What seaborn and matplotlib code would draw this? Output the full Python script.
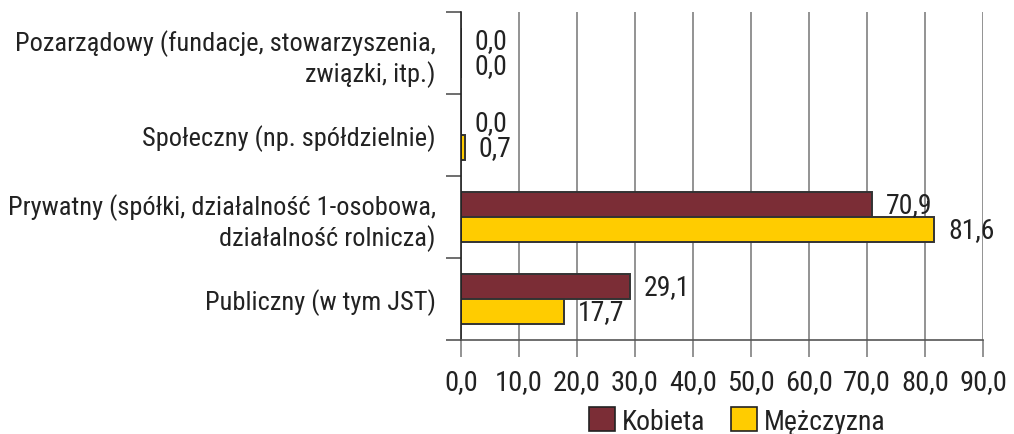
import pandas as pd
import matplotlib
import seaborn as sns
import matplotlib.pyplot as plt
from matplotlib import font_manager
from matplotlib.patches import Patch

matplotlib.use('Agg')

sectors = [
    "Pozarządowy (fundacje, stowarzyszenia,\nzwiązki, itp.)",
    "Społeczny (np. spółdzielnie)",
    "Prywatny (spółki, działalność 1-osobowa,\ndziałalność rolnicza)",
    "Publiczny (w tym JST)",
]
kobieta = [0.0, 0.0, 70.9, 29.1]
mezczyzna = [0.0, 0.7, 81.6, 17.7]
series = ["Kobieta", "Mężczyzna"]
xticks = [0, 10, 20, 30, 40, 50, 60, 70, 80, 90]

colors = ["#7B2D36", "#FFCC00"]


def pick_narrow_font():
    # look for a condensed sans face, the original uses a narrow Helvetica
    best = None
    for f in font_manager.fontManager.ttflist:
        if f.style != 'normal' or f.weight not in (400, 'normal', 'regular'):
            continue
        narrow = ('Narrow' in f.name or 'Condensed' in f.name
                  or f.stretch in ('condensed', 'semi-condensed'))
        if not narrow:
            continue
        rank = 0 if 'Liberation' in f.name else 1 if 'Roboto' in f.name else 2
        if best is None or rank < best[0]:
            best = (rank, f)
    return best[1] if best else None


entry = pick_narrow_font()
if entry is not None:
    fam, stretch = entry.name, entry.stretch
else:
    fam, stretch = "DejaVu Sans", "normal"

sns.set_style("white")
plt.rcParams['font.family'] = [fam, 'DejaVu Sans']
plt.rcParams['font.stretch'] = stretch

df = pd.DataFrame({
    "sektor": sectors * 2,
    "plec": [series[0]] * 4 + [series[1]] * 4,
    "wartosc": kobieta + mezczyzna,
})

fig = plt.figure(figsize=(10.14, 4.35), dpi=100)
ax = fig.add_axes([0.4546, 0.216, 0.5148, 0.754])

sns.barplot(data=df, x="wartosc", y="sektor", hue="plec", orient="h",
            palette=colors, saturation=1, width=0.6, edgecolor="#333333",
            linewidth=1.4, legend=False, ax=ax)

for cont, vals in zip(ax.containers, [kobieta, mezczyzna]):
    ax.bar_label(cont, labels=[f"{v:.1f}".replace(".", ",") for v in vals],
                 padding=10, fontsize=20, color="#222222")

ax.set_xlim(0, 90)
ax.set_ylim(3.5, -0.5)
ax.set_xticks(xticks)
ax.set_xticklabels([f"{v:.1f}".replace(".", ",") for v in xticks], fontsize=20.5)
ax.tick_params(axis='x', bottom=True, length=12, width=1.2, color="#808080",
               pad=8, labelcolor="#222222")
ax.set_yticks(range(len(sectors)))
ax.set_yticklabels(sectors, fontsize=19)
ax.tick_params(axis='y', left=True, length=0, pad=18, labelcolor="#222222")
ax.set_yticks([-0.5, 0.5, 1.5, 2.5, 3.5], minor=True)
ax.tick_params(axis='y', which='minor', left=True, length=11, width=1.2, color="#555555")

ax.xaxis.grid(True, color="#808080", linewidth=1.2)
ax.set_axisbelow(True)
for s in ["top", "right"]:
    ax.spines[s].set_visible(False)
ax.spines["left"].set_color("#222222")
ax.spines["bottom"].set_color("#555555")
ax.spines["left"].set_linewidth(1.2)
ax.spines["bottom"].set_linewidth(1.2)
ax.set_xlabel("")
ax.set_ylabel("")

handles = [Patch(facecolor=c, edgecolor="#222222", linewidth=1.2) for c in colors]
fig.legend(handles, series, loc="center", bbox_to_anchor=(0.727, 0.03), ncol=2,
           frameon=False, fontsize=20, handlelength=0.95, handleheight=0.95,
           handletextpad=0.25, columnspacing=0.9, borderaxespad=0, labelcolor="#222222")

plt.savefig("out.png", dpi=100)
